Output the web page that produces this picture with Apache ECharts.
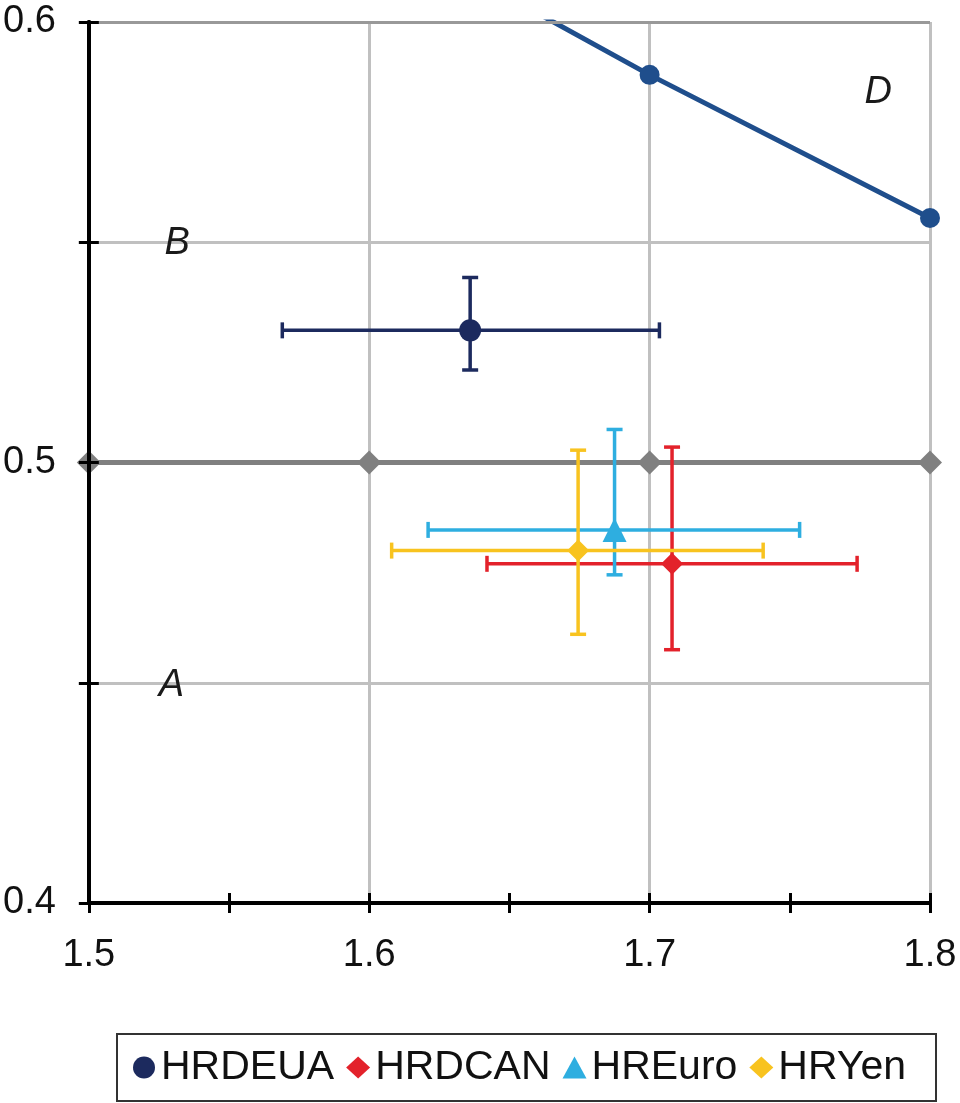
<!DOCTYPE html>
<html>
<head>
<meta charset="utf-8">
<script src="https://cdn.jsdelivr.net/npm/echarts@6/dist/echarts.min.js"></script>
<style>html,body{margin:0;padding:0;background:#fff;}#c{width:960px;height:1103px;}</style>
</head>
<body>
<div id="c"></div>
<script>
// ---- data ----
const seriesNames = ['HRDEUA', 'HRDCAN', 'HREuro', 'HRYen'];
const centerX = [1.636, 1.708, 1.6875, 1.6745];
const centerY = [0.530, 0.477, 0.4847, 0.480];
const xLow  = [1.569, 1.642, 1.621, 1.608];
const xHigh = [1.7035, 1.774, 1.7535, 1.7405];
const yLow  = [0.521, 0.4575, 0.4745, 0.461];
const yHigh = [0.542, 0.5035, 0.5075, 0.5028];

const frontierX = [1.6, 1.7, 1.8];
const frontierY = [0.623, 0.588, 0.5555];

const refX = [1.5, 1.6, 1.7, 1.8];
const refY = [0.5, 0.5, 0.5, 0.5];

const regionText = ['A', 'B', 'D'];
const regionX = [1.5295, 1.5315, 1.7815];
const regionY = [0.4495, 0.5497, 0.5841];

const xTickLabels = ['1.5', '1.6', '1.7', '1.8'];
const yTickLabels = ['0.4', '0.5', '0.6'];
const yTop = 0.6;

// ---- styles ----
const colors = ['#1c2a5e', '#e3222b', '#2eaee0', '#f8c31f'];
const symbols = ['circle', 'diamond', 'triangle', 'diamond'];
const symbolSizes = [22, 22, 24, 22];
const FONT = 'Liberation Sans, Arial, sans-serif';

const chart = echarts.init(document.getElementById('c'), null, {renderer: 'canvas'});

function fmtX(v) {
  const t = (Math.round(v * 100) % 10 === 0) ? v.toFixed(1) : '';
  return xTickLabels.indexOf(t) >= 0 ? t : '';
}
function fmtY(v) {
  const t = (Math.round(v * 100) % 10 === 0) ? v.toFixed(1) : '';
  return yTickLabels.indexOf(t) >= 0 ? t : '';
}

const series = [];

// reference line 0.5 (with darker top border line)
series.push({
  name: 'ref', type: 'line', xAxisIndex: 0, yAxisIndex: 0,
  data: refX.map((x, i) => [x, refY[i]]),
  symbol: 'diamond', symbolSize: 24,
  lineStyle: {color: '#808080', width: 5},
  itemStyle: {color: '#808080'},
  markLine: {
    silent: true, symbol: 'none', label: {show: false},
    lineStyle: {color: '#999999', width: 3, type: 'solid'},
    data: [{yAxis: yTop}]
  },
  z: 3, silent: true
});

// frontier
series.push({
  name: 'frontier', type: 'line', xAxisIndex: 0, yAxisIndex: 0,
  data: frontierX.map((x, i) => [x, frontierY[i]]),
  symbol: 'circle', symbolSize: 20, clip: true,
  lineStyle: {color: '#1f4e8c', width: 5},
  itemStyle: {color: '#1f4e8c'},
  z: 3, silent: true
});

// error bars
seriesNames.forEach((n, i) => {
  series.push({
    name: n + '_err', type: 'custom', xAxisIndex: 0, yAxisIndex: 0,
    data: [[centerX[i], centerY[i], xLow[i], xHigh[i], yLow[i], yHigh[i]]],
    encode: {x: 0, y: 1},
    z: 4, silent: true,
    renderItem: function (params, api) {
      const cx = api.value(0), cy = api.value(1);
      const l = api.coord([api.value(2), cy]);
      const r = api.coord([api.value(3), cy]);
      const b = api.coord([cx, api.value(4)]);
      const t = api.coord([cx, api.value(5)]);
      const cap = 8;
      const st = {stroke: colors[i], lineWidth: 3.5};
      return {
        type: 'group',
        children: [
          {type: 'line', shape: {x1: l[0], y1: l[1], x2: r[0], y2: r[1]}, style: st},
          {type: 'line', shape: {x1: l[0], y1: l[1] - cap, x2: l[0], y2: l[1] + cap}, style: st},
          {type: 'line', shape: {x1: r[0], y1: r[1] - cap, x2: r[0], y2: r[1] + cap}, style: st},
          {type: 'line', shape: {x1: t[0], y1: t[1], x2: b[0], y2: b[1]}, style: st},
          {type: 'line', shape: {x1: t[0] - cap, y1: t[1], x2: t[0] + cap, y2: t[1]}, style: st},
          {type: 'line', shape: {x1: b[0] - cap, y1: b[1], x2: b[0] + cap, y2: b[1]}, style: st}
        ]
      };
    }
  });
});

// point markers
seriesNames.forEach((n, i) => {
  series.push({
    name: n, type: 'scatter', xAxisIndex: 0, yAxisIndex: 0,
    data: [[centerX[i], centerY[i]]],
    symbol: symbols[i], symbolSize: symbolSizes[i],
    itemStyle: {color: colors[i], opacity: 1},
    z: 5
  });
});

// region letters
series.push({
  name: 'regions', type: 'custom', xAxisIndex: 0, yAxisIndex: 0,
  data: regionX.map((x, i) => [x, regionY[i], i]),
  encode: {x: 0, y: 1},
  silent: true, z: 6,
  renderItem: function (params, api) {
    const p = api.coord([api.value(0), api.value(1)]);
    return {
      type: 'text', x: p[0], y: p[1],
      style: {
        text: regionText[api.value(2)], fill: '#1a1a1a',
        font: 'italic 38px ' + FONT,
        align: 'center', verticalAlign: 'middle'
      }
    };
  }
});

const axisBlack = {show: true, lineStyle: {color: '#000', width: 4}};

chart.setOption({
  animation: false,
  backgroundColor: '#fff',
  grid: {left: 88, right: 30, top: 22, bottom: 200, containLabel: false},
  legend: {
    data: seriesNames,
    left: 117, top: 1034,
    orient: 'horizontal',
    padding: [13, 30, 13, 16],
    borderColor: '#333', borderWidth: 2,
    itemWidth: 24, itemHeight: 22, itemGap: 12,
    textStyle: {fontFamily: FONT, fontSize: 41, color: '#111'}
  },
  xAxis: [
    {
      type: 'value', min: 1.5, max: 1.8, interval: 0.05, position: 'bottom',
      axisLine: axisBlack,
      axisTick: {show: true, inside: false, length: 10, lineStyle: {color: '#000', width: 3}},
      axisLabel: {formatter: fmtX, fontFamily: FONT, fontSize: 38, color: '#111', margin: 34,
                  showMinLabel: true, showMaxLabel: true},
      splitLine: {show: false}, z: 10
    },
    {
      type: 'value', min: 1.5, max: 1.8, interval: 0.05, position: 'bottom',
      axisLine: axisBlack,
      axisTick: {show: true, inside: true, length: 10, lineStyle: {color: '#000', width: 3}},
      axisLabel: {show: false},
      splitLine: {show: false}, z: 10
    },
    {
      type: 'value', min: 1.5, max: 1.8, interval: 0.1, position: 'top',
      axisLine: {show: false}, axisTick: {show: false}, axisLabel: {show: false},
      splitLine: {show: true, lineStyle: {color: '#c0c0c0', width: 3}}, z: 0
    }
  ],
  yAxis: [
    {
      type: 'value', min: 0.4, max: 0.6, interval: 0.05, position: 'left',
      axisLine: axisBlack,
      axisTick: {show: true, inside: false, length: 10, lineStyle: {color: '#000', width: 3}},
      axisLabel: {formatter: fmtY, fontFamily: FONT, fontSize: 38, color: '#111', margin: 33,
                  showMinLabel: true, showMaxLabel: true},
      splitLine: {show: false},
      z: 10
    },
    {
      type: 'value', min: 0.4, max: 0.6, interval: 0.05, position: 'left', offset: 0,
      axisLine: axisBlack,
      axisTick: {show: true, inside: true, length: 10, lineStyle: {color: '#000', width: 3}},
      axisLabel: {show: false},
      splitLine: {show: false}, z: 10
    },
    {
      type: 'value', min: 0.4, max: 0.6, interval: 0.05, position: 'right',
      axisLine: {show: false}, axisTick: {show: false}, axisLabel: {show: false},
      splitLine: {show: true, lineStyle: {color: '#c0c0c0', width: 3}},
      z: 0
    }
  ],
  series: series
});
</script>
</body>
</html>
